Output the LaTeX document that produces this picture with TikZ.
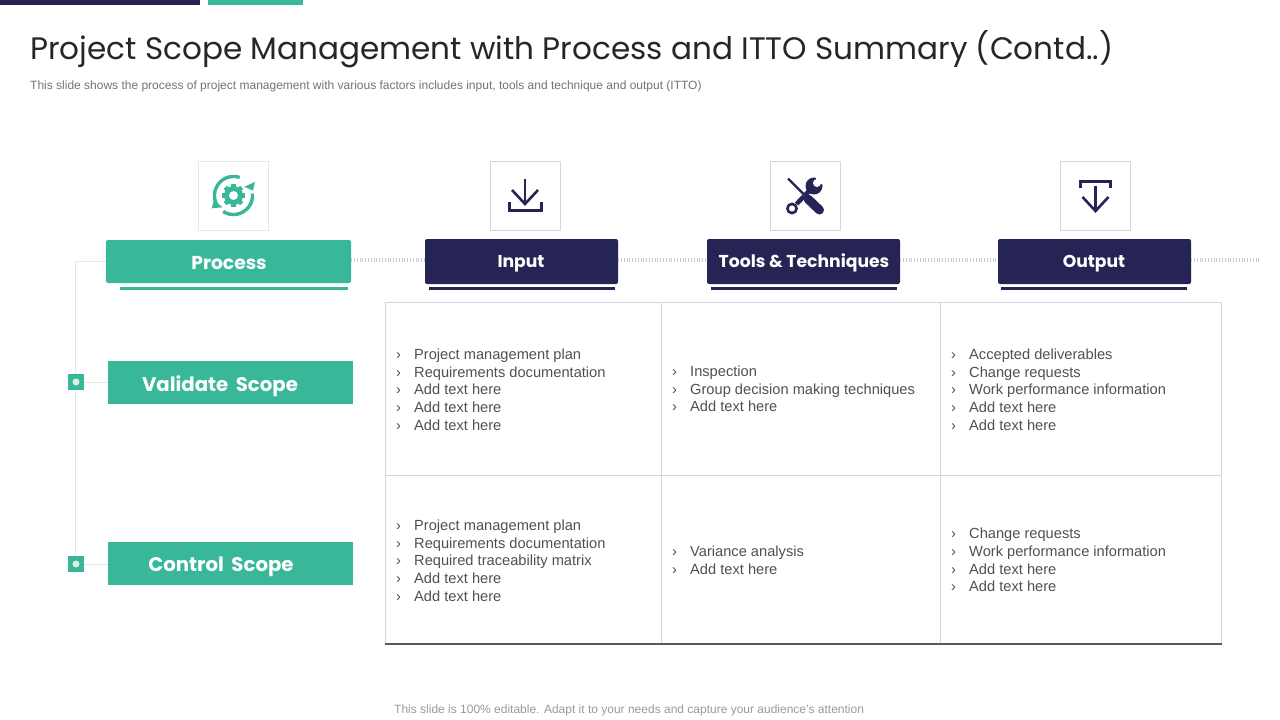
\documentclass[tikz,border=0pt]{standalone}
\usepackage{fontspec}
\setmainfont{Liberation Sans}
\newfontfamily\headfont{Poppins}
\definecolor{teal1}{HTML}{38B899}
\definecolor{navy1}{HTML}{262355}
\definecolor{bodytxt}{HTML}{505050}
\definecolor{gridc}{HTML}{D4D5E3}
\definecolor{tickc}{HTML}{C8CCCC}
\definecolor{treec}{HTML}{DDEBE9}
\tikzset{
 boxhead/.style={draw=none,fill=#1,rounded corners=2pt,inner sep=0pt},
 navytxt/.style={inner sep=0pt,text=white,font=\headfont\bfseries\fontsize{17.2}{20}\selectfont},
 tealtxt/.style={inner sep=0pt,text=white,font=\headfont\bfseries\fontsize{#1}{22}\selectfont},
 iconbox/.style={draw=#1,line width=0.9pt,minimum width=70pt,minimum height=69.5pt,inner sep=0pt},
 subline/.style={fill=#1,draw=none,inner sep=0pt,minimum height=3pt},
 celltxt/.style={anchor=west,align=left,inner sep=0pt,text=bodytxt,font=\fontsize{14.65}{17.7}\selectfont},
 tickline/.style={draw=tickc,line width=4pt,dash pattern=on 0.8pt off 2pt},
 tree/.style={draw=treec,line width=1pt},
 marker/.style={fill=teal1,draw=none,minimum size=16pt,inner sep=0pt},
 grid/.style={draw=gridc,line width=1pt},
 icon/.style={draw=navy1,line width=3pt},
}
\newcommand{\bl}[1]{\makebox[18pt][l]{›}#1}
\begin{document}
\begin{tikzpicture}[x=1pt,y=-1pt]
\useasboundingbox (0,0) rectangle (1280,720);
% top bars
\fill[navy1] (0,0) rectangle (200,5);
\fill[teal1] (208,0) rectangle (303,5);
% title
\node[anchor=west,inner sep=0pt,text=black!85,font=\headfont\fontsize{31.07}{36}\selectfont] (title) at (30,49) {Project Scope Management with Process and ITTO Summary (Contd..)};
\node[anchor=west,inner sep=0pt,text=black!55,font=\fontsize{12}{14}\selectfont] (sub) at (30,86) {This slide shows the process of project management with various factors includes input, tools and technique and output (ITTO)};
\node[anchor=west,inner sep=0pt,text=black!40,font=\fontsize{12}{14}\selectfont] (foot) at (394,710.5) {This slide is 100\% editable. Adapt it to your needs and capture your audience's attention};
% free ends
\coordinate (tickend) at (1260,260);
\coordinate (treetop) at (75.5,261);
% headers
\node[boxhead=teal1,minimum width=245pt,minimum height=43pt] (process) at (228.5,261.5) {};
\node[tealtxt=18.7] at (229,263.5) {Process};
\node[subline=teal1,minimum width=228pt] (processu) at (234,288.5) {};
\node[boxhead=navy1,minimum width=193pt,minimum height=45pt] (input) at (521.5,261.5) {};
\node[navytxt] at (521,264) {Input};
\node[subline=navy1,minimum width=186pt] (inputu) at (522,288.5) {};
\node[boxhead=navy1,minimum width=193pt,minimum height=45pt] (tools) at (803.5,261.5) {};
\node[navytxt] at (804,263) {Tools \& Techniques};
\node[subline=navy1,minimum width=186pt] (toolsu) at (804,288.5) {};
\node[boxhead=navy1,minimum width=193pt,minimum height=45pt] (output) at (1094.5,261.5) {};
\node[navytxt] at (1094,264) {Output};
\node[subline=navy1,minimum width=186pt] (outputu) at (1094,288.5) {};
% ticks
\draw[tickline] (process.east|-0,260) -- (input.west|-0,260);
\draw[tickline] (input.east|-0,260) -- (tools.west|-0,260);
\draw[tickline] (tools.east|-0,260) -- (output.west|-0,260);
\draw[tickline] (output.east|-0,260) -- (tickend);
% icon boxes
\node[iconbox=treec] (iproc) at (233.5,196) {};
\node[iconbox=gridc] (iinput) at (525.5,196) {};
\node[iconbox=gridc] (itools) at (805.5,196) {};
\node[iconbox=gridc] (ioutput) at (1095.5,196) {};
% process icon
\begin{scope}[shift={(233.5,195.5)}]
 \foreach \a in {0,45,...,315} {\fill[teal1,rotate=\a] (-2.2,-11.5) rectangle (2.2,-7);}
 \fill[teal1,even odd rule] (0,0) circle (9.5) (0,0) circle (4.6);
 \draw[teal1,line width=3.4pt] plot[domain=71:205,samples=40] ({19*cos(\x)},{-19*sin(\x)});
 \fill[teal1] (-11,11.8) -- (-21.8,12.8) -- (-19.5,4.5) -- cycle;
 \draw[teal1,line width=3.4pt] plot[domain=237:366,samples=40] ({19*cos(\x)},{-19*sin(\x)});
 \fill[teal1] (10.8,-8.8) -- (21.5,-13.5) -- (19.5,-4.8) -- cycle;
\end{scope}
% input icon
\draw[icon,line width=2.6pt] (525,179) -- (525,203);
\draw[icon,line width=2.6pt] (512,190) -- (525,204) -- (538,190);
\draw[icon] (509,202) -- (509,210.5) -- (541,210.5) -- (541,202);
% tools icon
\draw[navy1,line width=4.5pt] (796.5,204) -- (811,189);
\fill[navy1] (814,186) circle (8.5);
\fill[white] (817,183) circle (4);
\fill[white] (816,184) -- (826,184) -- (816,174) -- cycle;
\draw[navy1,line width=2.6pt] (792,208.5) circle (4.6);
\draw[white,line width=1.4pt] (801,192) -- (811,202);
\draw[navy1,line width=2.2pt] (788,178.5) -- (806,196.5);
\draw[navy1,line width=9pt,line cap=round] (808,199) -- (819.5,210);
% output icon
\draw[icon] (1080.5,188) -- (1080.5,181) -- (1110.5,181) -- (1110.5,188);
\draw[icon,line width=2.6pt] (1095.5,186) -- (1095.5,210);
\draw[icon,line width=2.6pt] (1082.5,197) -- (1095.5,211) -- (1108.5,197);
% rows
\node[marker] (m1) at (76,382) {};
\node[marker] (m2) at (76,564) {};
\node[fill=teal1,minimum width=245pt,minimum height=43pt,inner sep=0pt] (validate) at (230.5,382.5) {};
\node[tealtxt=19.7] at (220,386) {Validate\, Scope};
\node[fill=teal1,minimum width=245pt,minimum height=43pt,inner sep=0pt] (control) at (230.5,563.5) {};
\node[tealtxt=19.7] at (221,567) {Control\, Scope};
% tree
\draw[tree] (process.west|-treetop) -- (treetop) -- (treetop|-m1.north);
\draw[tree] (treetop|-m1.south) -- (treetop|-m2.north);
\draw[tree] (m1.east) -- (validate.west|-m1);
\draw[tree] (m2.east) -- (control.west|-m2);
\fill[treec] (m1.center) circle (3.5);
\fill[treec] (m2.center) circle (3.5);
% table
\draw[grid] (385,302) -- (1221.5,302) -- (1221.5,644);
\draw[grid] (385,302) -- (385,644);
\draw[grid] (661.5,302) -- (661.5,644);
\draw[grid] (940.5,302) -- (940.5,644);
\draw[grid] (385,475) -- (1221.5,475);
\draw[draw=black!65,line width=1.2pt] (385,644) -- (1221.5,644);
% cells
\node[celltxt] (c11) at (396,389.5) {\bl{Project management plan}\\\bl{Requirements documentation}\\\bl{Add text here}\\\bl{Add text here}\\\bl{Add text here}};
\node[celltxt] (c12) at (672,389) {\bl{Inspection}\\\bl{Group decision making techniques}\\\bl{Add text here}};
\node[celltxt] (c13) at (951,389.5) {\bl{Accepted deliverables}\\\bl{Change requests}\\\bl{Work performance information}\\\bl{Add text here}\\\bl{Add text here}};
\node[celltxt] (c21) at (396,560.5) {\bl{Project management plan}\\\bl{Requirements documentation}\\\bl{Required traceability matrix}\\\bl{Add text here}\\\bl{Add text here}};
\node[celltxt] (c22) at (672,560) {\bl{Variance analysis}\\\bl{Add text here}};
\node[celltxt] (c23) at (951,560) {\bl{Change requests}\\\bl{Work performance information}\\\bl{Add text here}\\\bl{Add text here}};
\end{tikzpicture}
\end{document}
